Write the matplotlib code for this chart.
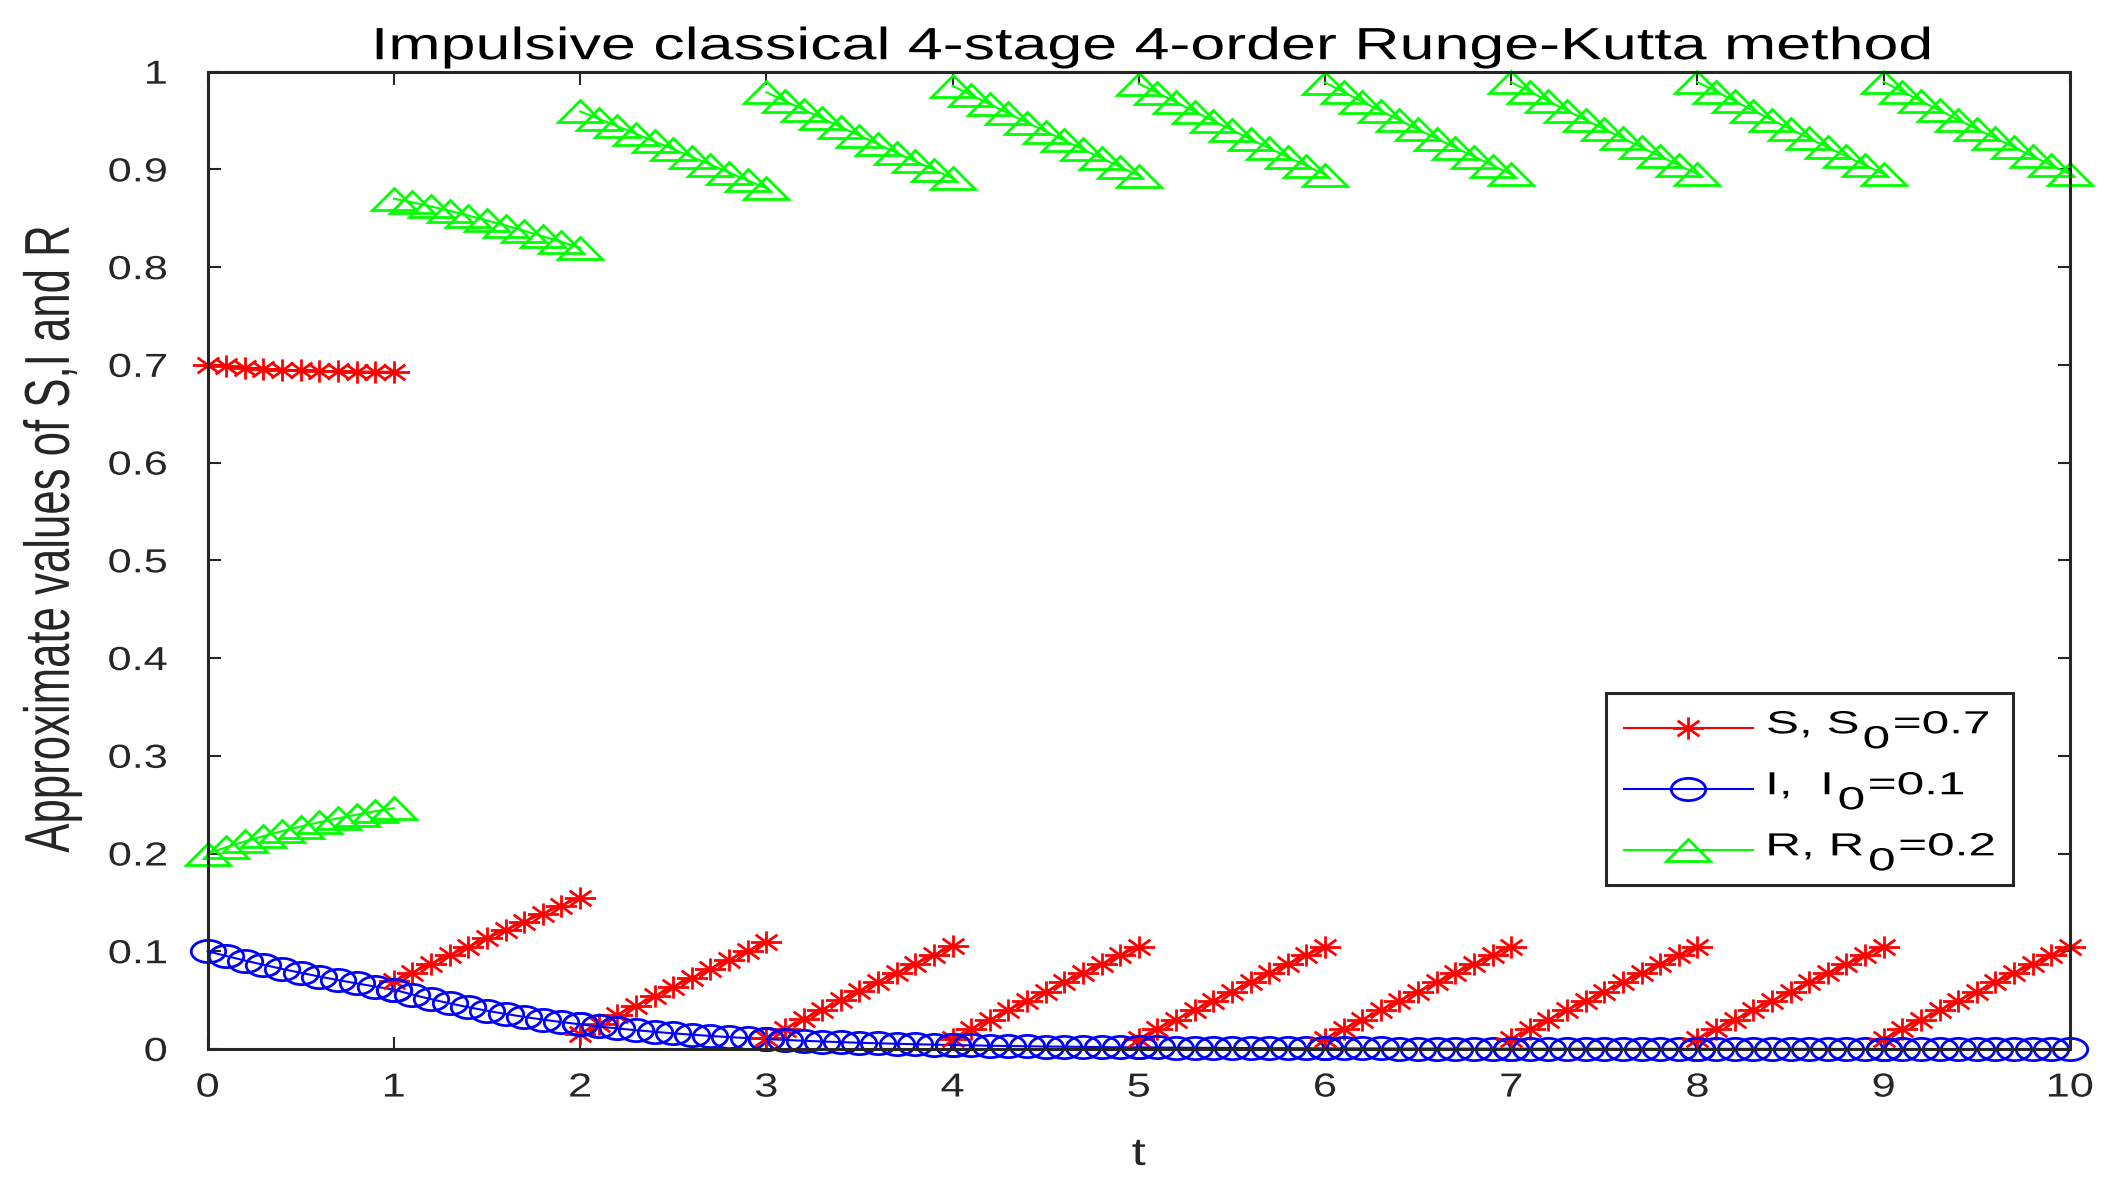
import matplotlib
matplotlib.use("Agg")
import matplotlib.pyplot as plt
from matplotlib.markers import MarkerStyle
from matplotlib.path import Path
from matplotlib.patches import Rectangle
from matplotlib.patheffects import AbstractPathEffect
from matplotlib.transforms import Affine2D

# time grid inside one impulse period, and the impulse instants
t_step = [0.0, 0.1, 0.2, 0.3, 0.4, 0.5, 0.6, 0.7, 0.8, 0.9, 1.0]
t_start = [0, 1, 2, 3, 4, 5, 6, 7, 8, 9]

# S, one row per period
S_seg = [
    [0.7000, 0.6985, 0.6972, 0.6961, 0.6952, 0.6945, 0.6939, 0.6935, 0.6932, 0.6930, 0.6929],
    [0.0693, 0.0782, 0.0870, 0.0958, 0.1045, 0.1131, 0.1216, 0.1300, 0.1384, 0.1467, 0.1549],
    [0.0155, 0.0252, 0.0348, 0.0444, 0.0539, 0.0633, 0.0726, 0.0819, 0.0911, 0.1002, 0.1092],
    [0.0109, 0.0208, 0.0305, 0.0401, 0.0497, 0.0591, 0.0685, 0.0778, 0.0869, 0.0960, 0.1050],
    [0.0105, 0.0203, 0.0300, 0.0397, 0.0493, 0.0587, 0.0681, 0.0774, 0.0866, 0.0957, 0.1047],
    [0.0105, 0.0203, 0.0300, 0.0397, 0.0493, 0.0587, 0.0681, 0.0774, 0.0866, 0.0957, 0.1047],
    [0.0105, 0.0203, 0.0300, 0.0397, 0.0493, 0.0587, 0.0681, 0.0774, 0.0866, 0.0957, 0.1047],
    [0.0105, 0.0203, 0.0300, 0.0397, 0.0493, 0.0587, 0.0681, 0.0774, 0.0866, 0.0957, 0.1047],
    [0.0105, 0.0203, 0.0300, 0.0397, 0.0493, 0.0587, 0.0681, 0.0774, 0.0866, 0.0957, 0.1047],
    [0.0105, 0.0203, 0.0300, 0.0397, 0.0493, 0.0587, 0.0681, 0.0774, 0.0866, 0.0957, 0.1047],
]

# I, one row per period
I_seg = [
    [0.1000, 0.0951, 0.0905, 0.0861, 0.0819, 0.0779, 0.0741, 0.0705, 0.0671, 0.0638, 0.0607],
    [0.0607, 0.0556, 0.0509, 0.0466, 0.0427, 0.0391, 0.0358, 0.0328, 0.0300, 0.0275, 0.0252],
    [0.0252, 0.0230, 0.0210, 0.0192, 0.0175, 0.0160, 0.0146, 0.0133, 0.0121, 0.0111, 0.0101],
    [0.0101, 0.0092, 0.0084, 0.0076, 0.0070, 0.0063, 0.0058, 0.0053, 0.0048, 0.0044, 0.0040],
    [0.0040, 0.0037, 0.0033, 0.0030, 0.0028, 0.0025, 0.0023, 0.0021, 0.0019, 0.0017, 0.0016],
    [0.0016, 0.0015, 0.0013, 0.0012, 0.0011, 0.0010, 0.0009, 0.0008, 0.0008, 0.0007, 0.0006],
    [0.0006, 0.0006, 0.0005, 0.0005, 0.0004, 0.0004, 0.0004, 0.0003, 0.0003, 0.0003, 0.0003],
    [0.0003, 0.0002, 0.0002, 0.0002, 0.0002, 0.0002, 0.0001, 0.0001, 0.0001, 0.0001, 0.0001],
    [0.0001, 0.0001, 0.0001, 0.0001, 0.0001, 0.0001, 0.0001, 0.0000, 0.0000, 0.0000, 0.0000],
    [0.0000, 0.0000, 0.0000, 0.0000, 0.0000, 0.0000, 0.0000, 0.0000, 0.0000, 0.0000, 0.0000],
]

# R, one row per period
R_seg = [
    [0.2000, 0.2064, 0.2123, 0.2178, 0.2229, 0.2276, 0.2320, 0.2360, 0.2397, 0.2432, 0.2464],
    [0.8700, 0.8662, 0.8621, 0.8576, 0.8528, 0.8478, 0.8426, 0.8372, 0.8316, 0.8258, 0.8199],
    [0.9593, 0.9518, 0.9442, 0.9364, 0.9286, 0.9207, 0.9128, 0.9048, 0.8968, 0.8887, 0.8807],
    [0.9790, 0.9700, 0.9611, 0.9523, 0.9433, 0.9346, 0.9257, 0.9169, 0.9083, 0.8996, 0.8910],
    [0.9855, 0.9760, 0.9667, 0.9573, 0.9479, 0.9388, 0.9296, 0.9205, 0.9115, 0.9026, 0.8937],
    [0.9879, 0.9782, 0.9687, 0.9591, 0.9496, 0.9403, 0.9310, 0.9218, 0.9126, 0.9036, 0.8947],
    [0.9889, 0.9791, 0.9695, 0.9598, 0.9503, 0.9409, 0.9315, 0.9223, 0.9131, 0.9040, 0.8950],
    [0.9892, 0.9795, 0.9698, 0.9601, 0.9505, 0.9411, 0.9318, 0.9225, 0.9133, 0.9042, 0.8952],
    [0.9894, 0.9796, 0.9699, 0.9602, 0.9506, 0.9412, 0.9318, 0.9225, 0.9133, 0.9043, 0.8953],
    [0.9895, 0.9797, 0.9700, 0.9603, 0.9507, 0.9413, 0.9319, 0.9226, 0.9134, 0.9043, 0.8953],
]

# legend labels as (text, subscript, rest), MATLAB draws the subscript full size
legend_parts = [("S, S", "0", "=0.7"), ("I,  I", "0", "=0.1"), ("R, R", "0", "=0.2")]
ytick_labels = ["0", "0.1", "0.2", "0.3", "0.4", "0.5", "0.6", "0.7", "0.8", "0.9", "1"]

plt.rcParams["font.family"] = ["Liberation Sans", "DejaVu Sans"]

AX_COLOR = "#262626"


class StretchX(AbstractPathEffect):
    """Widen drawn text horizontally (the reference image is stretched)."""

    def __init__(self, sx, anchor="center"):
        super().__init__()
        self.sx = sx
        self.anchor = anchor

    def draw_path(self, renderer, gc, tpath, affine, rgbFace=None):
        bb = tpath.get_extents(affine)
        if self.anchor == "left":
            cx = bb.x0
        elif self.anchor == "right":
            cx = bb.x1
        else:
            cx = 0.5 * (bb.x0 + bb.x1)
        aff = affine + Affine2D().translate(-cx, 0).scale(self.sx, 1.0).translate(cx, 0)
        renderer.draw_path(gc, tpath, aff, rgbFace)


# MATLAB-like markers, wider than tall like the reference
ast_path = Path(
    [(0, -1), (0, 1), (-1, 0), (1, 0), (-0.7, -0.7), (0.7, 0.7), (-0.7, 0.7), (0.7, -0.7)],
    [Path.MOVETO, Path.LINETO] * 4,
)
m_star = MarkerStyle(ast_path, transform=Affine2D().scale(1.4, 1.0))
m_circ = MarkerStyle("o", fillstyle="none", transform=Affine2D().scale(1.55, 1.0))
m_tri = MarkerStyle("^", fillstyle="none", transform=Affine2D().scale(1.95, 1.0))
styles = [("#ff0000", m_star), ("#0000ff", m_circ), ("#00ff00", m_tri)]

fig = plt.figure(figsize=(21.23, 11.87), dpi=100)
ax = fig.add_axes([0.0978, 0.1163, 0.8772, 0.8233])

lw, mew, ms = 1.5, 2.0, 16
for k, t0 in enumerate(t_start):
    t = [t0 + s for s in t_step]
    for vals, (col, mk) in zip((S_seg[k], I_seg[k], R_seg[k]), styles):
        ax.plot(t, vals, color=col, lw=lw, marker=mk, ms=ms, mew=mew, mfc="none", clip_on=False)

ax.set_xlim(0, 10)
ax.set_ylim(0, 1)
ax.set_xticks(range(0, 11))
ax.set_yticks([i / 10 for i in range(11)])
ax.set_yticklabels(ytick_labels)

for sp in ax.spines.values():
    sp.set_linewidth(2.2)
    sp.set_color(AX_COLOR)
ax.tick_params(axis="both", direction="in", length=9, width=1.5, color=AX_COLOR,
               labelcolor=AX_COLOR, labelsize=24, top=True, right=True)
ax.tick_params(axis="x", pad=17)
ax.tick_params(axis="y", pad=29)
for tk in ax.xaxis.get_major_ticks():
    tk.label1.set_path_effects([StretchX(1.3)])
for tk in ax.yaxis.get_major_ticks():
    tk.label1.set_path_effects([StretchX(1.3, "right")])

ttl = ax.set_title("Impulsive classical 4-stage 4-order Runge-Kutta method", fontsize=32.5,
                   color="black", pad=9, x=0.507)
ttl.set_path_effects([StretchX(1.39)])
ax.set_xlabel("t", fontsize=28, color=AX_COLOR, labelpad=24)
ax.xaxis.label.set_path_effects([StretchX(1.3)])
ax.set_ylabel("Approximate values of S,I and R", fontsize=31.5, color=AX_COLOR)
ax.yaxis.set_label_coords(-0.0675, 0.522)
ax.yaxis.label.set_path_effects([StretchX(1.45, "right")])

# legend, built by hand (box, sample lines, texts with full-size subscripts)
ax.add_patch(Rectangle((0.7508, 0.1678), 0.2186, 0.1965, transform=ax.transAxes,
                       fc="white", ec=AX_COLOR, lw=2.2, zorder=5, clip_on=False))
row_y = [0.3288, 0.2664, 0.2039]
hx0, hxm, hx1, tx = 0.7605, 0.7951, 0.8298, 0.8372
fs, sx = 23, 1.55
renderer = fig.canvas.get_renderer()
ax_w = ax.bbox.width
for (col, mk), parts, y in zip(styles, legend_parts, row_y):
    ax.plot([hx0, hx1], [y, y], transform=ax.transAxes, color=col, lw=lw,
            zorder=6, clip_on=False)
    ax.plot([hxm], [y], transform=ax.transAxes, color=col, marker=mk, ms=ms, mew=mew,
            mfc="none", zorder=6, clip_on=False)
    x = tx
    base = y - 0.0058
    for j, piece in enumerate(parts):
        yy = base - 0.0153 if j == 1 else base
        txt = ax.text(x, yy, piece, transform=ax.transAxes, fontsize=fs, color="black",
                      ha="left", va="baseline", zorder=7)
        txt.set_path_effects([StretchX(sx, "left")])
        x += txt.get_window_extent(renderer).width * sx / ax_w + 0.0015

fig.savefig("out.png", dpi=100, facecolor="white")
